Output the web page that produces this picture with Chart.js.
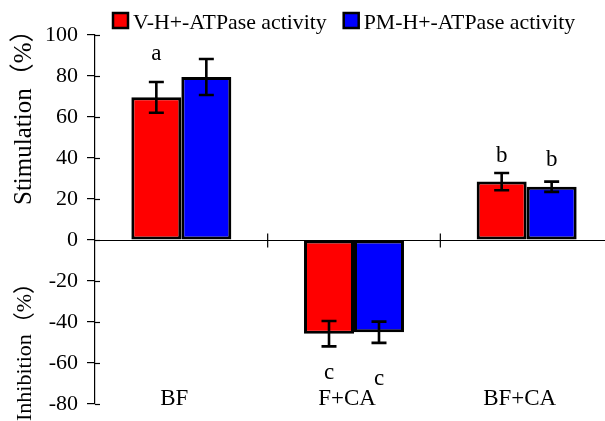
<!DOCTYPE html>
<html><head><meta charset="utf-8">
<script src="https://cdn.jsdelivr.net/npm/chart.js@4/dist/chart.umd.min.js"></script>
<style>html,body{margin:0;padding:0;overflow:hidden;background:#fff}#wrap{width:613px;height:421px}</style>
</head><body><div id="wrap"><canvas id="c" width="613" height="421" style="width:613px;height:421px"></canvas></div>
<script>
const categories = ['BF', 'F+CA', 'BF+CA'];
const seriesNames = ['V-H+-ATPase activity', 'PM-H+-ATPase activity'];
const vValues = [69.6, -45.7, 28.5];
const pmValues = [79.5, -45.0, 26.0];
const vErrors = [7.5, 6.2, 4.2];
const pmErrors = [8.8, 5.2, 2.5];
const vLetters = ['a', 'c', 'b'];
const pmLetters = ['', 'c', 'b'];
const vLetterAt = [87.8, -67.8, 38];
const pmLetterAt = [0, -70.7, 36];
const yTickValues = [100, 80, 60, 40, 20, 0, -20, -40, -60, -80];
const yTitleUpper = 'Stimulation（%）';
const yTitleLower = 'Inhibition（%）';

const SERIF = '"Liberation Serif", "Times New Roman", "Noto Sans CJK SC", serif';
const colors = ['#ff0000', '#0000ff'];
const errs = [vErrors, pmErrors];
const letters = [vLetters, pmLetters];
const letterAt = [vLetterAt, pmLetterAt];

const extras = {
  id: 'extras',
  beforeDatasetsDraw(chart) {
    const ctx = chart.ctx, y = chart.scales.y, x = chart.scales.x, a = chart.chartArea;
    ctx.save();
    ctx.strokeStyle = '#000';
    ctx.lineWidth = 1.2;
    const y0 = Math.round(y.getPixelForValue(0)) + 0.5;
    ctx.beginPath(); ctx.moveTo(a.left, y0); ctx.lineTo(a.right, y0); ctx.stroke();
    for (let i = 1; i < categories.length; i++) {
      const sx = (x.getPixelForValue(i - 1) + x.getPixelForValue(i)) / 2;
      ctx.beginPath(); ctx.moveTo(sx, y0 - 7); ctx.lineTo(sx, y0 + 7); ctx.stroke();
    }
    yTickValues.forEach(v => {
      const py = Math.round(y.getPixelForValue(v)) + 0.5;
      ctx.beginPath(); ctx.moveTo(a.left, py); ctx.lineTo(a.left + 5, py); ctx.stroke();
    });
    ctx.restore();
  },
  afterDatasetsDraw(chart) {
    const ctx = chart.ctx, y = chart.scales.y, x = chart.scales.x;
    ctx.save();
    ctx.strokeStyle = '#000';
    ctx.lineWidth = 2.6;
    chart.data.datasets.forEach((ds, di) => {
      const meta = chart.getDatasetMeta(di);
      meta.data.forEach((bar, i) => {
        const v = ds.data[i], e = errs[di][i];
        const cx = bar.x;
        const top = y.getPixelForValue(v + e), bot = y.getPixelForValue(v - e);
        ctx.beginPath();
        ctx.moveTo(cx, top); ctx.lineTo(cx, bot);
        ctx.moveTo(cx - 7.5, top); ctx.lineTo(cx + 7.5, top);
        ctx.moveTo(cx - 7.5, bot); ctx.lineTo(cx + 7.5, bot);
        ctx.stroke();
        const L = letters[di][i];
        if (L) {
          ctx.fillStyle = '#000';
          ctx.font = '23px ' + SERIF;
          ctx.textAlign = 'center';
          ctx.textBaseline = 'alphabetic';
          ctx.fillText(L, cx, y.getPixelForValue(letterAt[di][i]));
        }
      });
    });
    ctx.fillStyle = '#000';
    ctx.font = '23px ' + SERIF;
    ctx.textAlign = 'center';
    ctx.textBaseline = 'alphabetic';
    categories.forEach((c, i) => ctx.fillText(c, x.getPixelForValue(i) - 7, 405));
    ctx.textAlign = 'left';
    ctx.font = '25px ' + SERIF;
    ctx.save(); ctx.translate(31, 205); ctx.rotate(-Math.PI / 2); ctx.fillText(yTitleUpper, 0, 0); ctx.restore();
    ctx.font = '22px ' + SERIF;
    ctx.save(); ctx.translate(31, 421); ctx.rotate(-Math.PI / 2); ctx.fillText(yTitleLower, 0, 0); ctx.restore();
    ctx.font = '21.8px ' + SERIF;
    let lx = 113;
    seriesNames.forEach((n, i) => {
      ctx.fillStyle = colors[i];
      ctx.fillRect(lx, 13, 15, 15);
      ctx.strokeStyle = '#000'; ctx.lineWidth = 2.5;
      ctx.strokeRect(lx, 13, 15, 15);
      ctx.fillStyle = '#000';
      ctx.fillText(n, lx + 20, 28.5);
      lx += 20 + ctx.measureText(n).width + 17;
    });
    ctx.restore();
  }
};

new Chart(document.getElementById('c'), {
  type: 'bar',
  data: {
    labels: categories,
    datasets: [
      { label: seriesNames[0], data: vValues, backgroundColor: colors[0], borderColor: '#000', borderWidth: 3, borderSkipped: false },
      { label: seriesNames[1], data: pmValues, backgroundColor: colors[1], borderColor: '#000', borderWidth: 3, borderSkipped: false }
    ]
  },
  options: {
    responsive: false,
    animation: false,
    devicePixelRatio: 1,
    layout: { padding: { top: 35, bottom: 0, left: 0, right: 0 } },
    plugins: { legend: { display: false }, tooltip: { enabled: false } },
    datasets: { bar: { categoryPercentage: 0.579, barPercentage: 1.0 } },
    scales: {
      x: {
        display: true,
        ticks: { display: false },
        grid: { display: false, drawTicks: false },
        border: { display: false },
        afterFit(s) { s.height = 17; s.paddingLeft = 0; s.paddingRight = 0; }
      },
      y: {
        min: -80, max: 100,
        afterBuildTicks(s) { s.ticks = yTickValues.map(v => ({ value: v })); },
        ticks: { color: '#000', font: { family: SERIF, size: 22, lineHeight: 1 }, padding: 9 },
        grid: { drawOnChartArea: false, drawTicks: true, tickLength: 8, color: '#000', lineWidth: 1.2 },
        border: { display: true, color: '#000', width: 1.2 },
        afterFit(s) { s.width = 95; s.paddingTop = 0; s.paddingBottom = 0; }
      }
    }
  },
  plugins: [extras]
});
</script>
</body></html>
